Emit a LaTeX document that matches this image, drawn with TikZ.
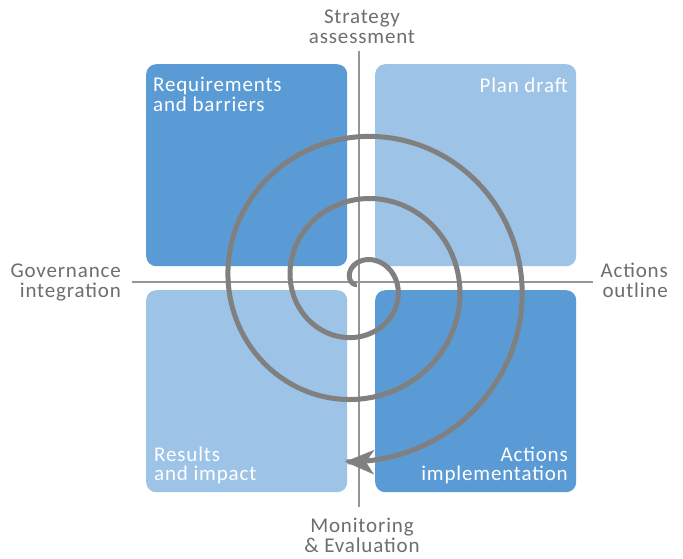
\documentclass[tikz,border=0pt]{standalone}
\usepackage{fontspec}
\setmainfont{Carlito}[LetterSpace=4]
\usetikzlibrary{arrows.meta}

\definecolor{boxdark}{RGB}{91,155,213}
\definecolor{boxlight}{RGB}{157,195,230}
\definecolor{spiralgray}{RGB}{128,128,128}
\definecolor{axisgray}{RGB}{150,150,150}
\definecolor{labelgray}{RGB}{110,110,110}

\newcommand{\cyclefont}{\fontsize{21}{19.5}\selectfont}

\begin{document}
\begin{tikzpicture}[x=1pt,y=-1pt,
  quad/.style={rounded corners=10pt, minimum width=201pt, minimum height=202pt,
               inner sep=0pt, anchor=north west},
  axisline/.style={draw=axisgray, line width=2pt},
  axislabel/.style={text=labelgray, inner sep=0pt, font=\cyclefont},
  boxlabel/.style={text=white, inner sep=0pt, font=\cyclefont},
  spiralline/.style={draw=spiralgray, line width=5pt,
               -{Stealth[length=29pt, width=24pt, inset=8pt]}}]

  % page frame
  \useasboundingbox[fill=white] (0,0) rectangle (683,558);

  % four quadrant panels
  \node[quad, fill=boxdark]  (req)  at (146,64)  {};
  \node[quad, fill=boxlight] (plan) at (375,64)  {};
  \node[quad, fill=boxlight] (res)  at (146,290) {};
  \node[quad, fill=boxdark]  (act)  at (375,290) {};

  % axes
  \coordinate (vtop) at (359,51);
  \coordinate (vbot) at (359,507);
  \coordinate (hleft) at (132,282);
  \coordinate (hright) at (593,282);
  \draw[axisline] (vtop) -- (vbot);
  \draw[axisline] (hleft) -- (hright);

  % axis labels (anchored on the baseline of the last line)
  \node[axislabel, anchor=base, align=center] (strat) at (362,43)
    {Strategy\\assessment};
  \node[axislabel, anchor=base, align=center] (mon) at (362,552)
    {Monitoring\\\& Evaluation};
  \node[axislabel, anchor=base east, align=right] (gov) at (121,297)
    {Governance\\integration};
  \node[axislabel, anchor=base east, align=right] (outl) at (668,297)
    {Actions\\outline};

  % panel labels
  \node[boxlabel, anchor=base west, align=left] (reqtxt) at (153,111)
    {Requirements\\and barriers};
  \node[boxlabel, anchor=base east, align=right] (plantxt) at (568,92)
    {Plan draft};
  \node[boxlabel, anchor=base west, align=left] (restxt) at (154,480.5)
    {Results\\and impact};
  \node[boxlabel, anchor=base east, align=right] (acttxt) at (568,480.5)
    {Actions\\implementation};

  % spiral growing clockwise from the centre
  \draw[spiralline] plot[domain=200:-814.7, samples=500, smooth, variable=\t]
    ({359.5 + (22 + 0.17333*(90-\t))*cos(\t)},
     {283.5 - (22 + 0.17333*(90-\t))*sin(\t)});
\end{tikzpicture}
\end{document}
